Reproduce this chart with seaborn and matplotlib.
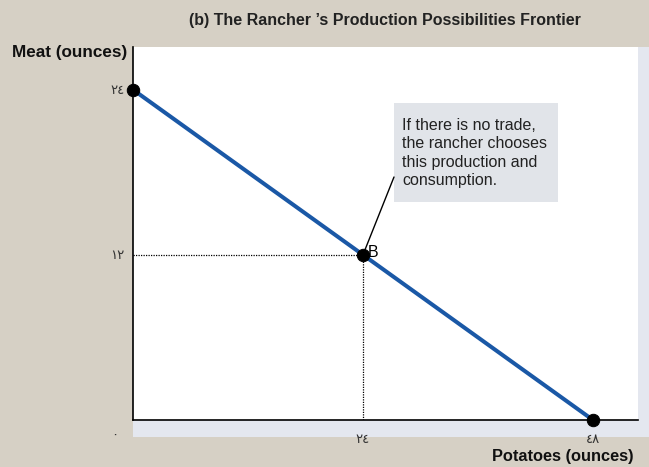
import matplotlib
matplotlib.use("Agg")
import matplotlib.pyplot as plt
import seaborn as sns
import pandas as pd
from matplotlib.patches import Rectangle

potatoes = [0, 24, 48]
meat = [24, 12, 0]
point_b = (24, 12)
x_ticks = [24, 48]
x_tick_labels = ["٢٤", "٤٨"]
y_ticks = [12, 24]
y_tick_labels = ["١٢", "٢٤"]
zero_label = "٠"
title = "(b) The Rancher \u2019s Production Possibilities Frontier"
note = "If there is no trade,\nthe rancher chooses\nthis production and\nconsumption."

sns.set_theme(style="white")
plt.rcParams['font.family'] = ['Liberation Sans', 'DejaVu Sans']

BG = "#d6d0c5"
BAND = "#e4e7ef"
BLUE = "#1a58a6"

fig = plt.figure(figsize=(6.49, 4.67), dpi=100)
fig.patch.set_facecolor(BG)
W, H = 649, 467
L, R, T, B = 133, 638, 47, 420

# light bands
fig.patches.append(Rectangle((R / W, 1 - 437 / H), 1 - R / W, (437 - T) / H,
                             transform=fig.transFigure, facecolor=BAND, edgecolor="none", zorder=-2))
fig.patches.append(Rectangle((L / W, 1 - 437 / H), (R - L) / W, (437 - B) / H,
                             transform=fig.transFigure, facecolor=BAND, edgecolor="none", zorder=-2))

ax = fig.add_axes([L / W, 1 - B / H, (R - L) / W, (B - T) / H])
ax.set_zorder(2)
ax.set_facecolor("white")

df = pd.DataFrame({"Potatoes": potatoes, "Meat": meat})
sns.lineplot(data=df, x="Potatoes", y="Meat", ax=ax, color=BLUE, linewidth=2.9, zorder=3)
sns.scatterplot(data=df, x="Potatoes", y="Meat", ax=ax, color="black", s=80,
                edgecolor="black", zorder=5, clip_on=False)

ax.set_xlim(0, 52.7)
ax.set_ylim(0, 27.1)

# dotted guides
ax.plot([0, point_b[0]], [point_b[1], point_b[1]], color="black", linestyle=(0, (1, 1)), linewidth=0.9, zorder=2)
ax.plot([point_b[0], point_b[0]], [0, point_b[1]], color="black", linestyle=(0, (1, 1)), linewidth=0.9, zorder=2)

ax.text(point_b[0] + 0.5, point_b[1] + 0.2, "B", fontsize=11.5, color="black", ha="left", va="center")

ax.set_xticks(x_ticks)
ax.set_xticklabels(x_tick_labels)
ax.set_yticks(y_ticks)
ax.set_yticklabels(y_tick_labels)
ax.tick_params(axis="both", length=0, labelsize=9.5, labelcolor="#333333")
ax.tick_params(axis="x", pad=10)
ax.tick_params(axis="y", pad=6)
ax.set_xlabel("")
ax.set_ylabel("")

for s in ["top", "right"]:
    ax.spines[s].set_visible(False)
for s in ["left", "bottom"]:
    ax.spines[s].set_color("black")
    ax.spines[s].set_linewidth(1.2)

fig.text(115 / W, 1 - 436 / H, zero_label, fontsize=9.5, color="#333333", ha="center", va="center")

fig.text(385 / W, 1 - 21 / H, title, fontsize=11.5, fontweight="bold", color="#222222", ha="center", va="center")
fig.text(127 / W, 1 - 53 / H, "Meat (ounces)", fontsize=12.3, fontweight="bold", color="#111111", ha="right", va="center")
fig.text(634 / W, 1 - 457 / H, "Potatoes (ounces)", fontsize=11.8, fontweight="bold", color="#111111", ha="right", va="center")

# annotation box
box = Rectangle((394 / W, 1 - 202 / H), (558 - 394) / W, (202 - 103) / H,
                transform=fig.transFigure, facecolor="#e1e4e9", edgecolor="none", zorder=3)
ax.add_artist(box)
box.set_clip_on(False)
box.set_transform(fig.transFigure)
ax.text(402 / W, 1 - 153 / H, note, transform=fig.transFigure, fontsize=11.5, color="#222222",
        ha="left", va="center", linespacing=1.3, zorder=6)
ax.annotate("", xy=point_b, xycoords="data", xytext=(394 / W, 1 - 177 / H), textcoords="figure fraction",
            arrowprops=dict(arrowstyle="-", color="black", linewidth=1.0, shrinkA=0, shrinkB=0), zorder=4)

fig.savefig("out.png", dpi=100, facecolor=BG)
